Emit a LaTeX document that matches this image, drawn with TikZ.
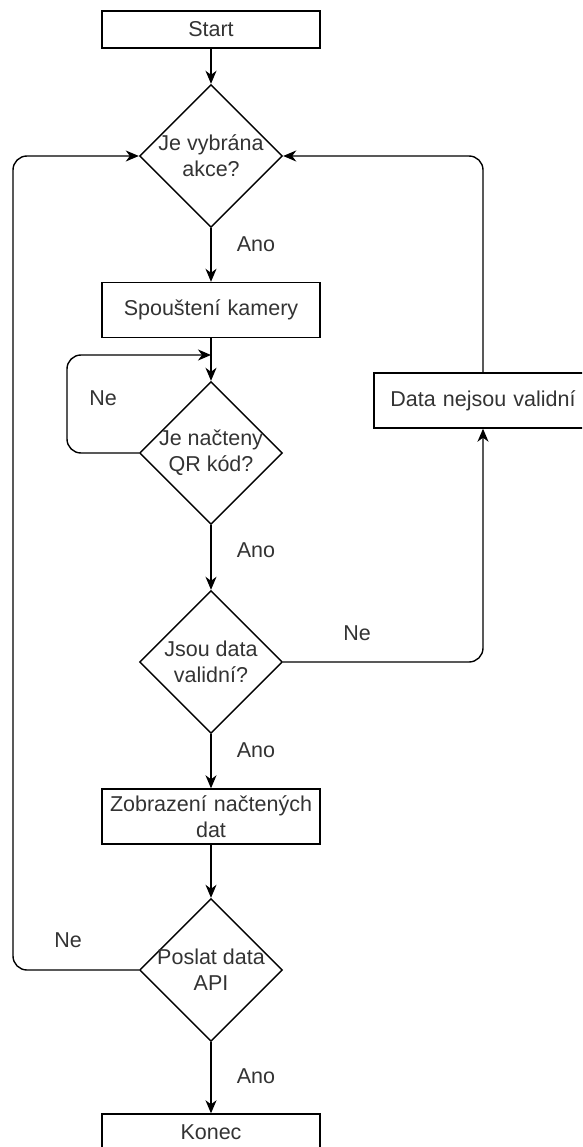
\documentclass[tikz,border=0pt]{standalone}
\usepackage{fontspec}
\setmainfont{Liberation Sans}
\usetikzlibrary{shapes.geometric,arrows.meta}
\tikzstyle{every node}=[font=\fontsize{21.5}{26}\selectfont, text=black!80]
\tikzstyle{box}=[draw=black, line width=1.4pt, minimum width=218pt, minimum height=37pt, inner sep=0pt, text width=214pt, align=center]
\tikzstyle{tall box}=[box, minimum height=55pt]
\tikzstyle{decision}=[draw=black, diamond, line width=1.4pt, minimum width=143pt, minimum height=143pt, inner sep=0pt]
\tikzstyle{flow}=[line width=1.4pt, rounded corners=14pt, -{Stealth[length=13pt,width=11pt,inset=4pt]}]

\begin{document}
\begin{tikzpicture}[x=1pt, y=-1pt]
  \clip[use as bounding box] (0,0) rectangle (582,1147);

  % main column
  \node[box] (start) at (211,29.5) {Start};
  \node[decision, label={[align=center]center:Je vybrána\\akce?}] (akce) at (211,156) {};
  \node[tall box] (kamera) at (211,310) {Spouštení kamery};
  \node[decision, label={[align=center]center:Je načteny\\QR kód?}] (qr) at (211,453) {};
  \node[decision, label={[align=center]center:Jsou data\\validní?}] (valid) at (211,662) {};
  \node[tall box] (zobrazeni) at (211,816.5) {Zobrazení načtených\\dat};
  \node[decision, label={[align=center]center:Poslat data\\API}] (poslat) at (211,970) {};
  \node[box] (konec) at (211,1132.5) {Konec};

  % side box
  \node[tall box] (chyba) at (483,400.5) {Data nejsou validní};

  \coordinate (vstup) at (211,355);
  \coordinate (smycka) at (67,355);
  \coordinate (vlevo) at (13,156);

  \draw[flow] (start) -- (akce);
  \draw[flow] (akce) -- (kamera);
  \draw[flow] (kamera) -- (qr);
  \draw[flow] (qr.west) -| (smycka) -- (vstup);
  \draw[flow] (qr) -- (valid);
  \draw[flow] (valid.east) -| (chyba.south);
  \draw[flow] (chyba.north) |- (akce.east);
  \draw[flow] (valid) -- (zobrazeni);
  \draw[flow] (zobrazeni) -- (poslat);
  \draw[flow] (poslat.west) -| (vlevo) -- (akce.west);
  \draw[flow] (poslat) -- (konec);

  % answers
  \foreach \n/\y in {ano1/244,ano2/550,ano3/750,ano4/1076}
    \node (\n) at (256,\y) {Ano};
  \node (ne1) at (103,398) {Ne};
  \node (ne2) at (357,633) {Ne};
  \node (ne3) at (68,940) {Ne};
\end{tikzpicture}
\end{document}
